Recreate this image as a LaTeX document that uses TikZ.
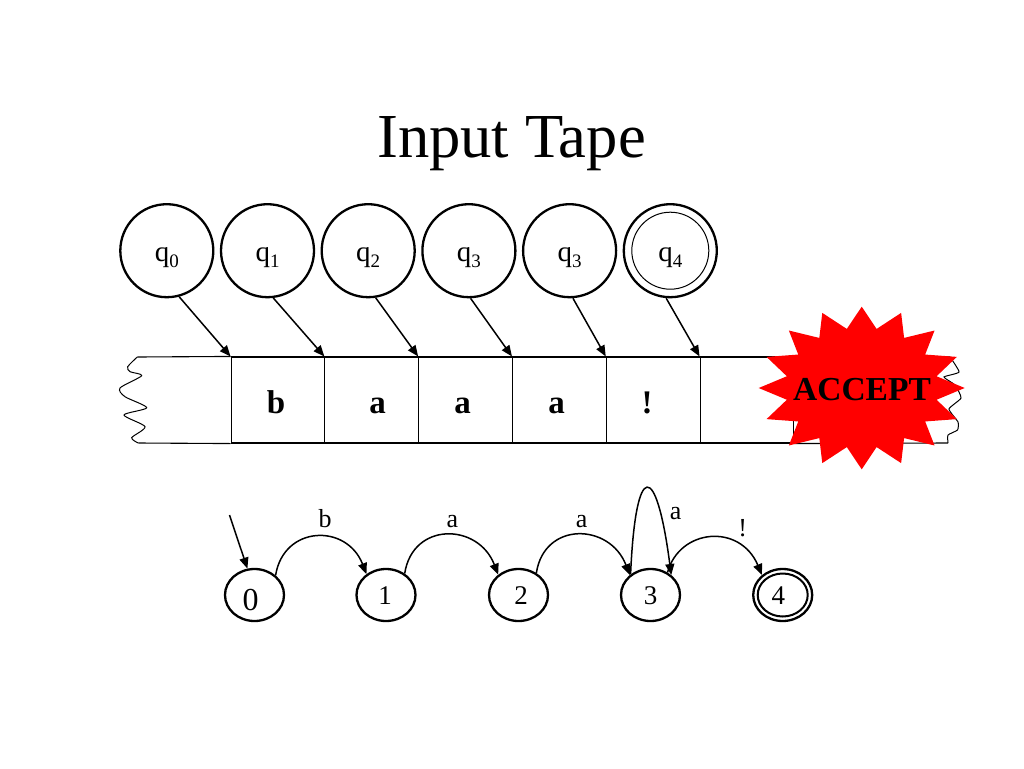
\documentclass[tikz,border=0pt]{standalone}
\usepackage{fontspec}
\setmainfont{Liberation Serif}
\usetikzlibrary{shapes,arrows.meta}
\newcommand{\qsub}[1]{q\raisebox{-6pt}{\fontsize{19}{19}\selectfont #1}}
\tikzset{basic/.style={draw,inner sep=0pt,line width=2.3pt}}
\tikzset{hist/.style={basic,circle,minimum size=93pt,text height=20.6pt,text depth=0pt,font=\fontsize{29}{30}\selectfont}}
\tikzset{histin/.style={draw,circle,inner sep=0pt,minimum size=77pt,line width=1pt}}
\tikzset{cell/.style={draw,rectangle,inner sep=0pt,minimum width=93.8pt,minimum height=86pt,line width=1.1pt}}
\tikzset{sym/.style={anchor=base,inner sep=0pt,font=\fontsize{33}{35}\selectfont\bfseries}}
\tikzset{state/.style={basic,ellipse,minimum width=59pt,minimum height=52pt,text height=19.5pt,text depth=0pt,font=\fontsize{27}{30}\selectfont}}
\tikzset{statein/.style={draw,ellipse,inner sep=0pt,minimum width=50pt,minimum height=43pt,line width=2pt}}
\tikzset{edgelab/.style={anchor=base,inner sep=0pt,font=\fontsize{26}{30}\selectfont}}
\tikzset{arrow/.style={draw,line width=1.5pt,-{Triangle[length=11pt,width=9pt]}}}
\tikzset{burst/.style={star,star points=16,star point ratio=1.35,fill=red,inner sep=0pt,minimum size=162.6pt,transform shape}}
\begin{document}
\begin{tikzpicture}[x=1pt,y=1pt,node distance=100.7pt]
    \useasboundingbox (0,0) rectangle (1024,-768);
    \node[anchor=base,inner sep=0pt,font=\fontsize{62.6}{65}\selectfont] (title) at (511.5,-157) {Input Tape};

    \node[hist] (h0) at (166.8,-250.7) {\qsub{0}};
    \node[hist,right of=h0] (h1) {\qsub{1}};
    \node[hist,right of=h1] (h2) {\qsub{2}};
    \node[hist,right of=h2] (h3) {\qsub{3}};
    \node[hist,right of=h3] (h4) {\qsub{3}};
    \node[hist,right of=h4] (h5) {\qsub{4}};
    \node[histin] (h5in) at (h5) {};

    % tape
    \node[cell] (c1) at (278,-400) {};
    \node[cell,right of=c1,node distance=93.8pt] (c2) {};
    \node[cell,right of=c2,node distance=93.8pt] (c3) {};
    \node[cell,right of=c3,node distance=93.8pt] (c4) {};
    \node[cell,right of=c4,node distance=93.8pt] (c5) {};
    \node[cell,right of=c5,node distance=93.8pt] (c6) {};
    \coordinate (tl) at (137.3,-357);
    \coordinate (bl) at (138.3,-443);
    \coordinate (tr) at (950,-357);
    \coordinate (br) at (948,-443);
    \draw[line width=1.1pt] (tl) -- (c1.north west);
    \draw[line width=1.1pt] (bl) -- (c1.south west);
    \draw[line width=1.1pt] (c6.north east) -- (tr);
    \draw[line width=1.1pt] (c6.south east) -- (br);
    \draw[line width=1pt] plot[smooth,tension=0.45] coordinates {(tl) (127.7,-366.7) (130,-371.7) (141.7,-375.7) (120,-388) (125,-396.7) (146.7,-407.7) (124,-415) (145,-426.7) (131.7,-437.7) (bl)};
    \draw[line width=1pt] plot[smooth,tension=0.3] coordinates {(tr) (959,-372) (944,-377) (955,-385) (961,-398) (949,-409) (958,-422) (957.5,-430) (948,-435) (br)};

    \node[sym] (b1) at (276,-413) {b};
    \node[sym] (a1) at (377.7,-413) {a};
    \node[sym] (a2) at (462.7,-413) {a};
    \node[sym] (a3) at (556.7,-413) {a};
    \node[sym] (ex) at (647,-413) {!};

    \path[arrow] (h0.-75.6) -- (c1.north west);
    \path[arrow] (h1.-83) -- (c2.north west);
    \path[arrow] (h2.-81) -- (c3.north west);
    \path[arrow] (h3.-88) -- (c4.north west);
    \path[arrow] (h4.-86) -- (c5.north west);
    \path[arrow] (h5.-95) -- (c6.north west);

    % automaton
    \node[state,text height=30pt,font=\fontsize{32}{34}\selectfont] (s0) at (254.5,-595) {\hspace{-7.6pt}0};
    \node[state] (s1) at (386,-595) {\hspace{-2pt}1};
    \node[state] (s2) at (518.5,-595) {\hspace{5pt}2};
    \node[state] (s3) at (650.5,-595) {3};
    \node[state] (s4) at (782.7,-595) {\hspace{-8.8pt}4};
    \node[statein] (s4in) at (s4) {};
    \coordinate (init) at (229.5,-515);

    \path[arrow] (init) -- (s0.105);
    \path[arrow] (s0.43) .. controls +(8,50) and +(-20,51) .. (s1.133);
    \path[arrow] (s1.49) .. controls +(8,52) and +(-20,52) .. (s2.135);
    \path[arrow] (s2.51) .. controls +(8,52) and +(-20,52) .. (s3.136);
    \path[arrow] (s3.134) .. controls +(5,115) and +(-15,115) .. (s3.44);
    \path[arrow] (s3.53) .. controls +(12,44) and +(-22,52) .. (s4.136);

    \node[edgelab] (lb) at (325,-527.5) {b};
    \node[edgelab] (la1) at (452.3,-527.5) {a};
    \node[edgelab] (la2) at (581.7,-527.5) {a};
    \node[edgelab] (la3) at (675.7,-519.5) {a};
    \node[edgelab] (lex) at (742.7,-536) {!};

    % on top of the tape end
    \node[burst,xscale=1.267] (acc) at (861.7,-388) {};
    \node[anchor=base,inner sep=0pt,font=\fontsize{33.5}{35}\selectfont\bfseries] (acclab) at (862,-400) {ACCEPT};
\end{tikzpicture}
\end{document}
